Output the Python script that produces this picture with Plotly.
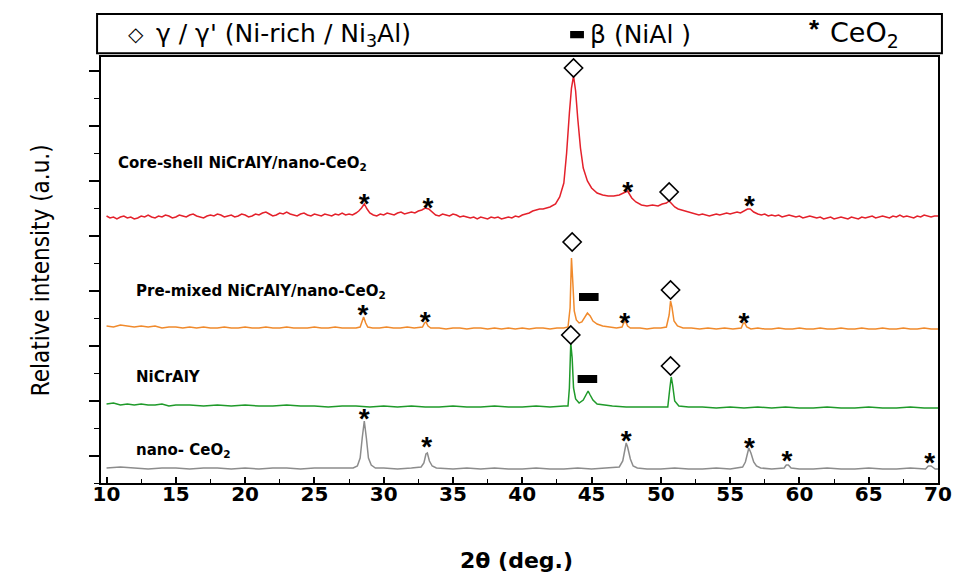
import plotly.graph_objects as go

# ---------------- data: (2theta [deg], intensity [a.u., stacked offset included]) ----------------
red_pts = [(10, 267), (10.25, 265), (10.5, 266), (10.75, 264), (11, 266), (11.25, 267), (11.5, 265), (11.75, 266),
           (12, 264), (12.25, 265), (12.5, 267), (12.75, 266), (13, 268), (13.25, 266), (13.5, 265), (13.75, 267),
           (14, 266), (14.25, 268), (14.5, 267), (14.75, 265), (15, 266), (15.25, 268), (15.5, 267), (15.75, 266),
           (16, 268), (16.25, 269), (16.5, 267), (16.75, 266), (17, 265), (17.25, 267), (17.5, 268), (17.75, 267),
           (18, 269), (18.25, 268), (18.5, 266), (18.75, 267), (19, 268), (19.25, 266), (19.5, 267), (19.75, 269),
           (20, 268), (20.25, 266), (20.5, 267), (20.75, 269), (21, 268), (21.25, 270), (21.5, 271), (21.75, 269),
           (22, 267), (22.25, 268), (22.5, 270), (22.75, 269), (23, 271), (23.25, 269), (23.5, 268), (23.75, 267),
           (24, 269), (24.25, 270), (24.5, 268), (24.75, 267), (25, 269), (25.25, 268), (25.5, 267), (25.75, 269),
           (26, 268), (26.25, 267), (26.5, 269), (26.75, 268), (27, 270), (27.25, 268), (27.5, 269), (27.75, 268),
           (28, 270), (28.2, 272), (28.4, 275), (28.6, 279), (28.8, 274), (29.0, 270), (29.25, 268), (29.5, 267),
           (29.75, 269), (30, 268), (30.25, 270), (30.5, 269), (30.75, 268), (31, 270), (31.25, 271), (31.5, 269),
           (31.75, 270), (32, 271), (32.25, 270), (32.5, 272), (32.75, 273), (33, 275), (33.25, 274), (33.5, 271),
           (33.75, 268), (34, 267), (34.25, 269), (34.5, 268), (34.75, 267), (35, 269), (35.25, 268), (35.5, 266),
           (35.75, 267), (36, 266), (36.25, 265), (36.5, 266), (36.75, 264), (37, 266), (37.25, 265), (37.5, 264),
           (37.75, 266), (38, 265), (38.25, 266), (38.5, 264), (38.75, 265), (39, 266), (39.25, 265), (39.5, 267),
           (39.75, 266), (40, 268), (40.25, 269), (40.5, 270), (40.75, 272), (41, 273), (41.25, 274), (41.5, 274),
           (41.75, 275), (42, 276), (42.4, 279), (42.7, 286), (43.0, 300), (43.2, 330), (43.4, 370), (43.55, 395),
           (43.7, 407), (43.85, 392), (44.0, 365), (44.2, 335), (44.4, 315), (44.7, 302), (45.0, 295), (45.4, 290),
           (45.8, 288), (46.2, 287), (46.6, 287), (47.0, 288), (47.3, 290), (47.6, 292), (47.9, 285), (48.2, 281),
           (48.6, 278), (49.0, 277), (49.4, 278), (49.8, 277), (50.1, 279), (50.4, 280), (50.6, 282), (50.8, 279),
           (51.0, 276), (51.25, 274), (51.5, 273), (51.75, 272), (52, 271), (52.25, 270), (52.5, 269), (52.75, 268),
           (53, 269), (53.25, 268), (53.5, 267), (53.75, 268), (54, 269), (54.25, 268), (54.5, 269), (54.75, 270),
           (55, 269), (55.25, 270), (55.5, 271), (55.75, 270), (56, 272), (56.25, 274), (56.45, 274), (56.7, 271),
           (57, 269), (57.25, 268), (57.5, 269), (57.75, 267), (58, 268), (58.25, 267), (58.5, 268), (58.75, 266),
           (59, 267), (59.25, 268), (59.5, 267), (59.75, 266), (60, 267), (60.25, 265), (60.5, 266), (60.75, 267),
           (61, 266), (61.25, 265), (61.5, 266), (61.75, 264), (62, 265), (62.25, 266), (62.5, 264), (62.75, 265),
           (63, 266), (63.25, 265), (63.5, 264), (63.75, 266), (64, 265), (64.25, 264), (64.5, 266), (64.75, 265),
           (65, 266), (65.25, 267), (65.5, 265), (65.75, 266), (66, 267), (66.25, 266), (66.5, 265), (66.75, 267),
           (67, 266), (67.25, 268), (67.5, 266), (67.75, 267), (68, 266), (68.25, 265), (68.5, 267), (68.75, 266),
           (69, 268), (69.25, 267), (69.5, 266), (69.75, 267), (70, 267)]

orange_pts = [(10, 157), (10.5, 156), (11, 158), (11.5, 157), (12, 156), (12.5, 157), (13, 156), (13.5, 157),
              (14, 155), (14.5, 156), (15, 156), (15.5, 155), (16, 156), (16.5, 155), (17, 156), (17.5, 155),
              (18, 155), (18.5, 156), (19, 155), (19.5, 155), (20, 156), (20.5, 155), (21, 155), (21.5, 156),
              (22, 155), (22.5, 155), (23, 156), (23.5, 155), (24, 155), (24.5, 155), (25, 156), (25.5, 155),
              (26, 155), (26.5, 156), (27, 155), (27.5, 155), (28, 155), (28.3, 156), (28.45, 163), (28.55, 166),
              (28.7, 160), (28.85, 156), (29.2, 155), (29.7, 155), (30.2, 156), (30.7, 155), (31.2, 155),
              (31.7, 156), (32.2, 155), (32.8, 156), (32.95, 160), (33.05, 161), (33.2, 157), (33.4, 155),
              (34, 155), (34.5, 154), (35, 155), (35.5, 155), (36, 154), (36.5, 155), (37, 155), (37.5, 154),
              (38, 155), (38.5, 154), (39, 155), (39.5, 154), (40, 155), (40.5, 154), (41, 155), (41.5, 155),
              (42, 154), (42.5, 155), (43, 155), (43.3, 156), (43.45, 175), (43.55, 225), (43.65, 200),
              (43.75, 172), (43.9, 163), (44.1, 160), (44.3, 161), (44.5, 166), (44.7, 170), (44.9, 167),
              (45.1, 162), (45.4, 159), (45.8, 157), (46.3, 156), (46.8, 155), (47.2, 156), (47.35, 161),
              (47.45, 162), (47.6, 157), (47.8, 155), (48.5, 155), (49, 154), (49.5, 155), (50, 155), (50.4, 156),
              (50.6, 168), (50.7, 182), (50.8, 176), (50.95, 162), (51.2, 157), (51.6, 155), (52.2, 155),
              (52.8, 154), (53.4, 155), (54, 154), (54.6, 155), (55.2, 154), (55.8, 155), (55.95, 160),
              (56.05, 160), (56.2, 156), (56.5, 154), (57, 155), (57.5, 154), (58, 154), (58.5, 155), (59, 154),
              (59.5, 154), (60, 155), (60.5, 154), (61, 154), (61.5, 155), (62, 154), (62.5, 154), (63, 155),
              (63.5, 154), (64, 154), (64.5, 155), (65, 154), (65.5, 154), (66, 155), (66.5, 154), (67, 154),
              (67.5, 155), (68, 154), (68.5, 154), (69, 155), (69.5, 154), (70, 154)]

green_pts = [(10, 79), (10.5, 80), (11, 78), (11.5, 79), (12, 78), (12.5, 79), (13, 78), (13.5, 78), (14, 79),
             (14.5, 77), (15, 78), (16, 78), (17, 77), (18, 78), (19, 77), (20, 78), (21, 77), (22, 77), (23, 78),
             (24, 77), (25, 77), (26, 76), (27, 77), (28, 77), (29, 76), (30, 77), (31, 76), (32, 77), (33, 76),
             (34, 76), (35, 77), (36, 76), (37, 76), (38, 77), (39, 76), (40, 76), (41, 77), (42, 76), (43, 77),
             (43.3, 77), (43.4, 95), (43.5, 140), (43.6, 125), (43.7, 95), (43.85, 84), (44.1, 80), (44.4, 83),
             (44.6, 89), (44.75, 92), (44.9, 88), (45.1, 83), (45.4, 79), (45.8, 78), (46.5, 77), (47.5, 76),
             (48.5, 76), (49.5, 76), (50.5, 76), (50.65, 95), (50.75, 106), (50.85, 98), (51.0, 82), (51.3, 77),
             (52, 76), (53, 76), (54, 75), (55, 76), (56, 75), (57, 76), (58, 75), (59, 76), (60, 75), (61, 75),
             (62, 76), (63, 75), (64, 75), (65, 76), (66, 75), (67, 75), (68, 76), (69, 75), (70, 75)]

gray_pts = [(10, 15), (11, 16), (12, 15), (13, 14), (14, 15), (15, 15), (16, 14), (17, 15), (18, 15), (19, 14),
            (20, 15), (21, 14), (22, 15), (23, 15), (24, 14), (25, 15), (26, 15), (27, 15), (27.8, 15), (28.1, 17),
            (28.3, 25), (28.45, 45), (28.6, 62), (28.75, 45), (28.9, 25), (29.1, 18), (29.4, 15), (30, 15),
            (31, 14), (32, 15), (32.7, 16), (32.9, 20), (33.05, 29), (33.15, 30), (33.3, 22), (33.5, 17),
            (33.8, 15), (35, 14), (36, 15), (37, 14), (38, 15), (39, 14), (40, 14), (41, 15), (42, 14), (43, 14),
            (44, 15), (45, 14), (46, 15), (47.0, 16), (47.25, 22), (47.4, 34), (47.5, 40), (47.6, 36),
            (47.8, 24), (48.0, 17), (48.3, 15), (49, 14), (50, 14), (51, 15), (52, 14), (53, 14), (54, 15),
            (55, 14), (55.9, 16), (56.1, 21), (56.25, 31), (56.35, 35), (56.5, 30), (56.7, 21), (56.9, 17),
            (57.2, 15), (58, 14), (58.9, 15), (59.05, 18), (59.2, 18), (59.4, 15), (60, 14), (61, 14), (62, 15),
            (63, 14), (64, 14), (65, 15), (66, 14), (67, 14), (68, 15), (69.1, 14), (69.3, 17), (69.5, 17),
            (69.8, 14), (70, 14)]

# phase markers
diamond_x = [43.7, 50.6, 43.6, 50.7, 43.5, 50.7]
diamond_y = [415, 291, 241, 193, 148, 117]
beta_x = [44.8, 44.7]
beta_y = [186, 104]
star_x = [28.6, 33.2, 47.6, 56.4, 28.5, 33.0, 47.4, 56.0, 28.6, 33.1, 47.5, 56.4, 59.1, 69.4]
star_y = [285, 281, 297, 283, 174, 167, 166, 166, 70, 42, 48, 41, 28, 26]

sample_names = ["Core-shell NiCrAlY/nano-CeO<sub>2</sub>", "Pre-mixed NiCrAlY/nano-CeO<sub>2</sub>",
                "NiCrAlY", "nano- CeO<sub>2</sub>"]
name_x = [10.7, 11.95, 11.95, 11.95]
name_y = [320, 192, 106, 33]

x_ticks = [10, 15, 20, 25, 30, 35, 40, 45, 50, 55, 60, 65, 70]
x_minor = [12.5, 17.5, 22.5, 27.5, 32.5, 37.5, 42.5, 47.5, 52.5, 57.5, 62.5, 67.5]

# ---------------- figure ----------------
SANS = "Liberation Sans"
WIDE = "DejaVu Sans"
fig = go.Figure()
for pts, col in [(red_pts, "#e4212b"), (orange_pts, "#f08a2c"), (green_pts, "#1f9a2a"), (gray_pts, "#8c8c8c")]:
    fig.add_trace(go.Scatter(x=[p[0] for p in pts], y=[p[1] for p in pts], mode="lines",
                             line=dict(color=col, width=1.5), showlegend=False, hoverinfo="skip"))

fig.add_trace(go.Scatter(x=diamond_x, y=diamond_y, mode="markers", showlegend=False,
                         marker=dict(symbol="diamond-open", size=14, color="black",
                                     line=dict(color="black", width=1.6))))
fig.add_trace(go.Scatter(x=beta_x, y=beta_y, mode="markers", showlegend=False,
                         marker=dict(symbol="line-ew", size=14, color="black",
                                     line=dict(color="black", width=8))))
fig.add_trace(go.Scatter(x=star_x, y=[v - 8 for v in star_y], mode="text", text=["*"] * len(star_x),
                         textposition="middle center", showlegend=False,
                         textfont=dict(family=SANS, size=28, color="black", weight="bold")))

for t, xv, yv in zip(sample_names, name_x, name_y):
    fig.add_annotation(x=xv, y=yv, text="<b>" + t + "</b>", showarrow=False, xanchor="left",
                       yanchor="middle", font=dict(family=WIDE, size=15, color="black"))

# legend-like box at top (paper units; plot area is 851 px wide)
fig.add_shape(type="rect", xref="paper", yref="paper", x0=-0.0047, x1=1.0047, y0=1.009, y1=1.101,
              line=dict(color="black", width=2))
fig.add_shape(type="rect", xref="paper", yref="paper", x0=0.5605, x1=0.5770, y0=1.044, y1=1.061,
              line=dict(width=0), fillcolor="black")
fig.add_annotation(xref="paper", yref="paper", x=0.0423, y=1.055, xanchor="center", yanchor="middle",
                   showarrow=False, text="◇", font=dict(family=WIDE, size=20, color="black"))
fig.add_annotation(xref="paper", yref="paper", x=0.0634, y=1.052, xanchor="left", yanchor="middle",
                   showarrow=False, text="γ / γ' (Ni-rich / Ni<sub>3</sub>Al)",
                   font=dict(family=WIDE, size=25, color="black"))
fig.add_annotation(xref="paper", yref="paper", x=0.5815, y=1.052, xanchor="left", yanchor="middle",
                   showarrow=False, text="β (NiAl )", font=dict(family=WIDE, size=25, color="black"))
fig.add_annotation(xref="paper", yref="paper", x=0.852, y=1.066, xanchor="center", yanchor="middle",
                   showarrow=False, text="<b>*</b>", font=dict(family=SANS, size=26, color="black"))
fig.add_annotation(xref="paper", yref="paper", x=0.869, y=1.052, xanchor="left", yanchor="middle",
                   showarrow=False, text="CeO<sub>2</sub>", font=dict(family=WIDE, size=27, color="black"))

fig.add_annotation(xref="paper", yref="paper", x=-0.0715, y=0.5, xanchor="center", yanchor="middle",
                   textangle=-90, showarrow=False, text="Relative intensity (a.u.)",
                   font=dict(family="Liberation Sans Narrow, DejaVu Sans Condensed", size=24, color="black"))
fig.add_annotation(xref="paper", yref="paper", x=0.497, y=-0.181, xanchor="center", yanchor="middle",
                   showarrow=False, text="<b>2θ (deg.)</b>", font=dict(family=WIDE, size=22, color="black"))

fig.update_xaxes(range=[9.6, 70], tickvals=x_ticks, ticks="inside", ticklen=6, tickwidth=1.5,
                 showline=True, linecolor="black", linewidth=1.5, mirror=True, showgrid=False,
                 zeroline=False, tickfont=dict(family=WIDE, size=20, color="black", weight="bold"),
                 ticklabelstandoff=-8, ticklabeloverflow="allow",
                 minor=dict(tickvals=x_minor, ticks="inside", ticklen=4, tickwidth=1.2, tickcolor="black"),
                 tickcolor="black")
fig.update_yaxes(range=[0, 426], tick0=27.5, dtick=55, ticks="outside", ticklen=10, tickwidth=1.5,
                 showticklabels=False, showline=True, linecolor="black", linewidth=1.5, mirror=True,
                 showgrid=False, zeroline=False, tickcolor="black",
                 minor=dict(tick0=0, dtick=27.5, ticks="outside", ticklen=5, tickwidth=1.2,
                            tickcolor="black"))
# page body adds an 8 px margin, so the figure is 8 px smaller than the window
fig.update_layout(width=952, height=570, margin=dict(l=93, r=8, t=49, b=95),
                  plot_bgcolor="white", paper_bgcolor="white", showlegend=False)
fig.write_html("out.html")
